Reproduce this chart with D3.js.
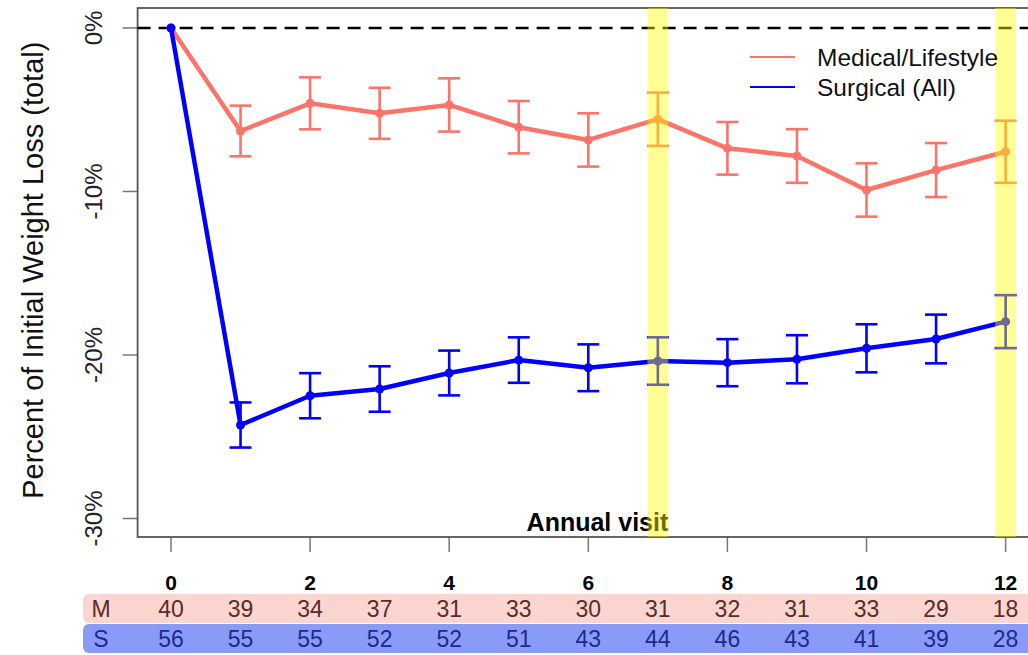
<!DOCTYPE html>
<html>
<head>
<meta charset="utf-8">
<script src="https://cdn.jsdelivr.net/npm/d3@7"></script>
<style>
  body { margin: 0; background: #fff; }
  svg { display: block; font-family: "Liberation Sans", Arial, Helvetica, sans-serif; }
</style>
</head>
<body>
<div id="chart"></div>
<script>
// annual visits
const visits = [0, 1, 2, 3, 4, 5, 6, 7, 8, 9, 10, 11, 12];
const tickVisits = [0, 2, 4, 6, 8, 10, 12];
const yTicks = [0, -10, -20, -30];
const highlightVisits = [7, 12];

// mean % change from initial weight, with half-width of error bars
const medicalMean = [0, -6.30, -4.61, -5.22, -4.71, -6.07, -6.85, -5.58, -7.36, -7.83, -9.91, -8.69, -7.57];
const medicalErr  = [0, 1.55, 1.59, 1.56, 1.63, 1.60, 1.63, 1.63, 1.61, 1.64, 1.63, 1.65, 1.90];
const surgicalMean = [0, -24.28, -22.49, -22.08, -21.10, -20.31, -20.78, -20.37, -20.47, -20.26, -19.59, -19.02, -17.96];
const surgicalErr  = [0, 1.38, 1.38, 1.39, 1.37, 1.39, 1.43, 1.45, 1.44, 1.47, 1.47, 1.49, 1.62];

// patients at each visit
const medicalN  = [40, 39, 34, 37, 31, 33, 30, 31, 32, 31, 33, 29, 18];
const surgicalN = [56, 55, 55, 52, 52, 51, 43, 44, 46, 43, 41, 39, 28];

const groups = [
  { name: "Medical/Lifestyle", short: "M", mean: medicalMean, err: medicalErr, n: medicalN,
    color: "#FA746A", rowFill: "#FBD6D1", rowText: "#5A2B27" },
  { name: "Surgical (All)", short: "S", mean: surgicalMean, err: surgicalErr, n: surgicalN,
    color: "#0000FF", rowFill: "#8A9BF7", rowText: "#1B2A8C" }
];

const width = 1028, height = 655;
const plot = { left: 137.6, right: 1039, top: 8, bottom: 537 };

const svg = d3.select("#chart").append("svg")
  .attr("width", width)
  .attr("height", height);

const x = d3.scaleLinear().domain([-0.48, 12.48]).range([plot.left, plot.right]);
const y = d3.scaleLinear().domain([1.22, -31.13]).range([plot.top, plot.bottom]);

// y axis ticks + rotated labels
svg.append("g").selectAll("line")
  .data(yTicks).enter().append("line")
  .attr("x1", plot.left - 15).attr("x2", plot.left)
  .attr("y1", d => y(d)).attr("y2", d => y(d))
  .attr("stroke", "#777").attr("stroke-width", 1.5);

svg.append("g").selectAll("text")
  .data(yTicks).enter().append("text")
  .attr("transform", d => `translate(102,${y(d)}) rotate(-90)`)
  .attr("text-anchor", "middle")
  .style("font-size", "24px")
  .attr("fill", "#222")
  .text(d => d + "%");

svg.append("text")
  .attr("transform", `translate(43,${(y(0) + y(-30)) / 2 - 3}) rotate(-90)`)
  .attr("text-anchor", "middle")
  .style("font-size", "29px")
  .attr("fill", "#111")
  .text("Percent of Initial Weight Loss (total)");

// x axis ticks
svg.append("g").selectAll("line")
  .data(tickVisits).enter().append("line")
  .attr("x1", d => x(d)).attr("x2", d => x(d))
  .attr("y1", plot.bottom).attr("y2", plot.bottom + 15)
  .attr("stroke", "#777").attr("stroke-width", 1.5);

svg.append("g").selectAll("text")
  .data(tickVisits).enter().append("text")
  .attr("x", d => x(d)).attr("y", 590)
  .attr("text-anchor", "middle")
  .style("font-size", "21px").style("font-weight", "bold")
  .text(d => d);

// box
svg.append("rect")
  .attr("x", plot.left).attr("y", plot.top)
  .attr("width", plot.right - plot.left).attr("height", plot.bottom - plot.top)
  .attr("fill", "none").attr("stroke", "#555").attr("stroke-width", 1.8);

// zero reference
svg.append("line")
  .attr("x1", plot.left).attr("x2", plot.right)
  .attr("y1", y(0)).attr("y2", y(0))
  .attr("stroke", "#000").attr("stroke-width", 2.5)
  .attr("stroke-dasharray", "13,8");

svg.append("text")
  .attr("x", x(7.15)).attr("y", 531)
  .attr("text-anchor", "end")
  .style("font-size", "25px").style("font-weight", "bold")
  .text("Annual visit");

const line = d3.line()
  .x((_, i) => x(visits[i]))
  .y(d => y(d));

groups.forEach(g => {
  const layer = svg.append("g");

  layer.append("path")
    .datum(g.mean)
    .attr("fill", "none")
    .attr("stroke", g.color)
    .attr("stroke-width", 4.5)
    .attr("stroke-linejoin", "round")
    .attr("d", line);

  const bars = layer.selectAll(".err")
    .data(visits.filter(v => g.err[v] > 0))
    .enter().append("g");

  bars.append("line")
    .attr("x1", v => x(v)).attr("x2", v => x(v))
    .attr("y1", v => y(g.mean[v] + g.err[v])).attr("y2", v => y(g.mean[v] - g.err[v]))
    .attr("stroke", g.color).attr("stroke-width", 2.6);

  [1, -1].forEach(s => {
    bars.append("line")
      .attr("x1", v => x(v) - 11).attr("x2", v => x(v) + 11)
      .attr("y1", v => y(g.mean[v] + s * g.err[v])).attr("y2", v => y(g.mean[v] + s * g.err[v]))
      .attr("stroke", g.color).attr("stroke-width", 2.6);
  });

  layer.selectAll("circle")
    .data(g.mean).enter().append("circle")
    .attr("cx", (_, i) => x(visits[i]))
    .attr("cy", d => y(d))
    .attr("r", 4.5)
    .attr("fill", g.color);
});

// highlighted visits
svg.append("g").selectAll("rect")
  .data(highlightVisits).enter().append("rect")
  .attr("x", d => x(d - 0.15)).attr("width", x(0.3) - x(0))
  .attr("y", plot.top).attr("height", plot.bottom - plot.top)
  .attr("fill", "#FFFF00").attr("opacity", 0.42);

// legend
const legend = svg.append("g").attr("transform", "translate(750,57)");
groups.forEach((g, i) => {
  const item = legend.append("g").attr("transform", `translate(0,${i * 30})`);
  item.append("line")
    .attr("x1", 0).attr("x2", 45)
    .attr("stroke", g.color).attr("stroke-width", 2.2);
  item.append("text")
    .attr("x", 67).attr("dy", "0.35em")
    .style("font-size", "24.5px")
    .attr("fill", "#111")
    .text(g.name);
});

// at-risk table
const rowY = [594, 624];
groups.forEach((g, i) => {
  const row = svg.append("g");
  row.append("rect")
    .attr("x", 83).attr("y", rowY[i])
    .attr("width", 980).attr("height", 29)
    .attr("rx", 6)
    .attr("fill", g.rowFill);
  row.append("text")
    .attr("x", 101).attr("y", rowY[i] + 14.5).attr("dy", "0.36em")
    .attr("text-anchor", "middle")
    .style("font-size", "23px")
    .attr("fill", g.rowText)
    .text(g.short);
  row.selectAll(".n")
    .data(g.n).enter().append("text")
    .attr("x", (_, k) => x(visits[k]))
    .attr("y", rowY[i] + 14.5).attr("dy", "0.36em")
    .attr("text-anchor", "middle")
    .style("font-size", "23px")
    .attr("fill", g.rowText)
    .text(d => d);
});
</script>
</body>
</html>
